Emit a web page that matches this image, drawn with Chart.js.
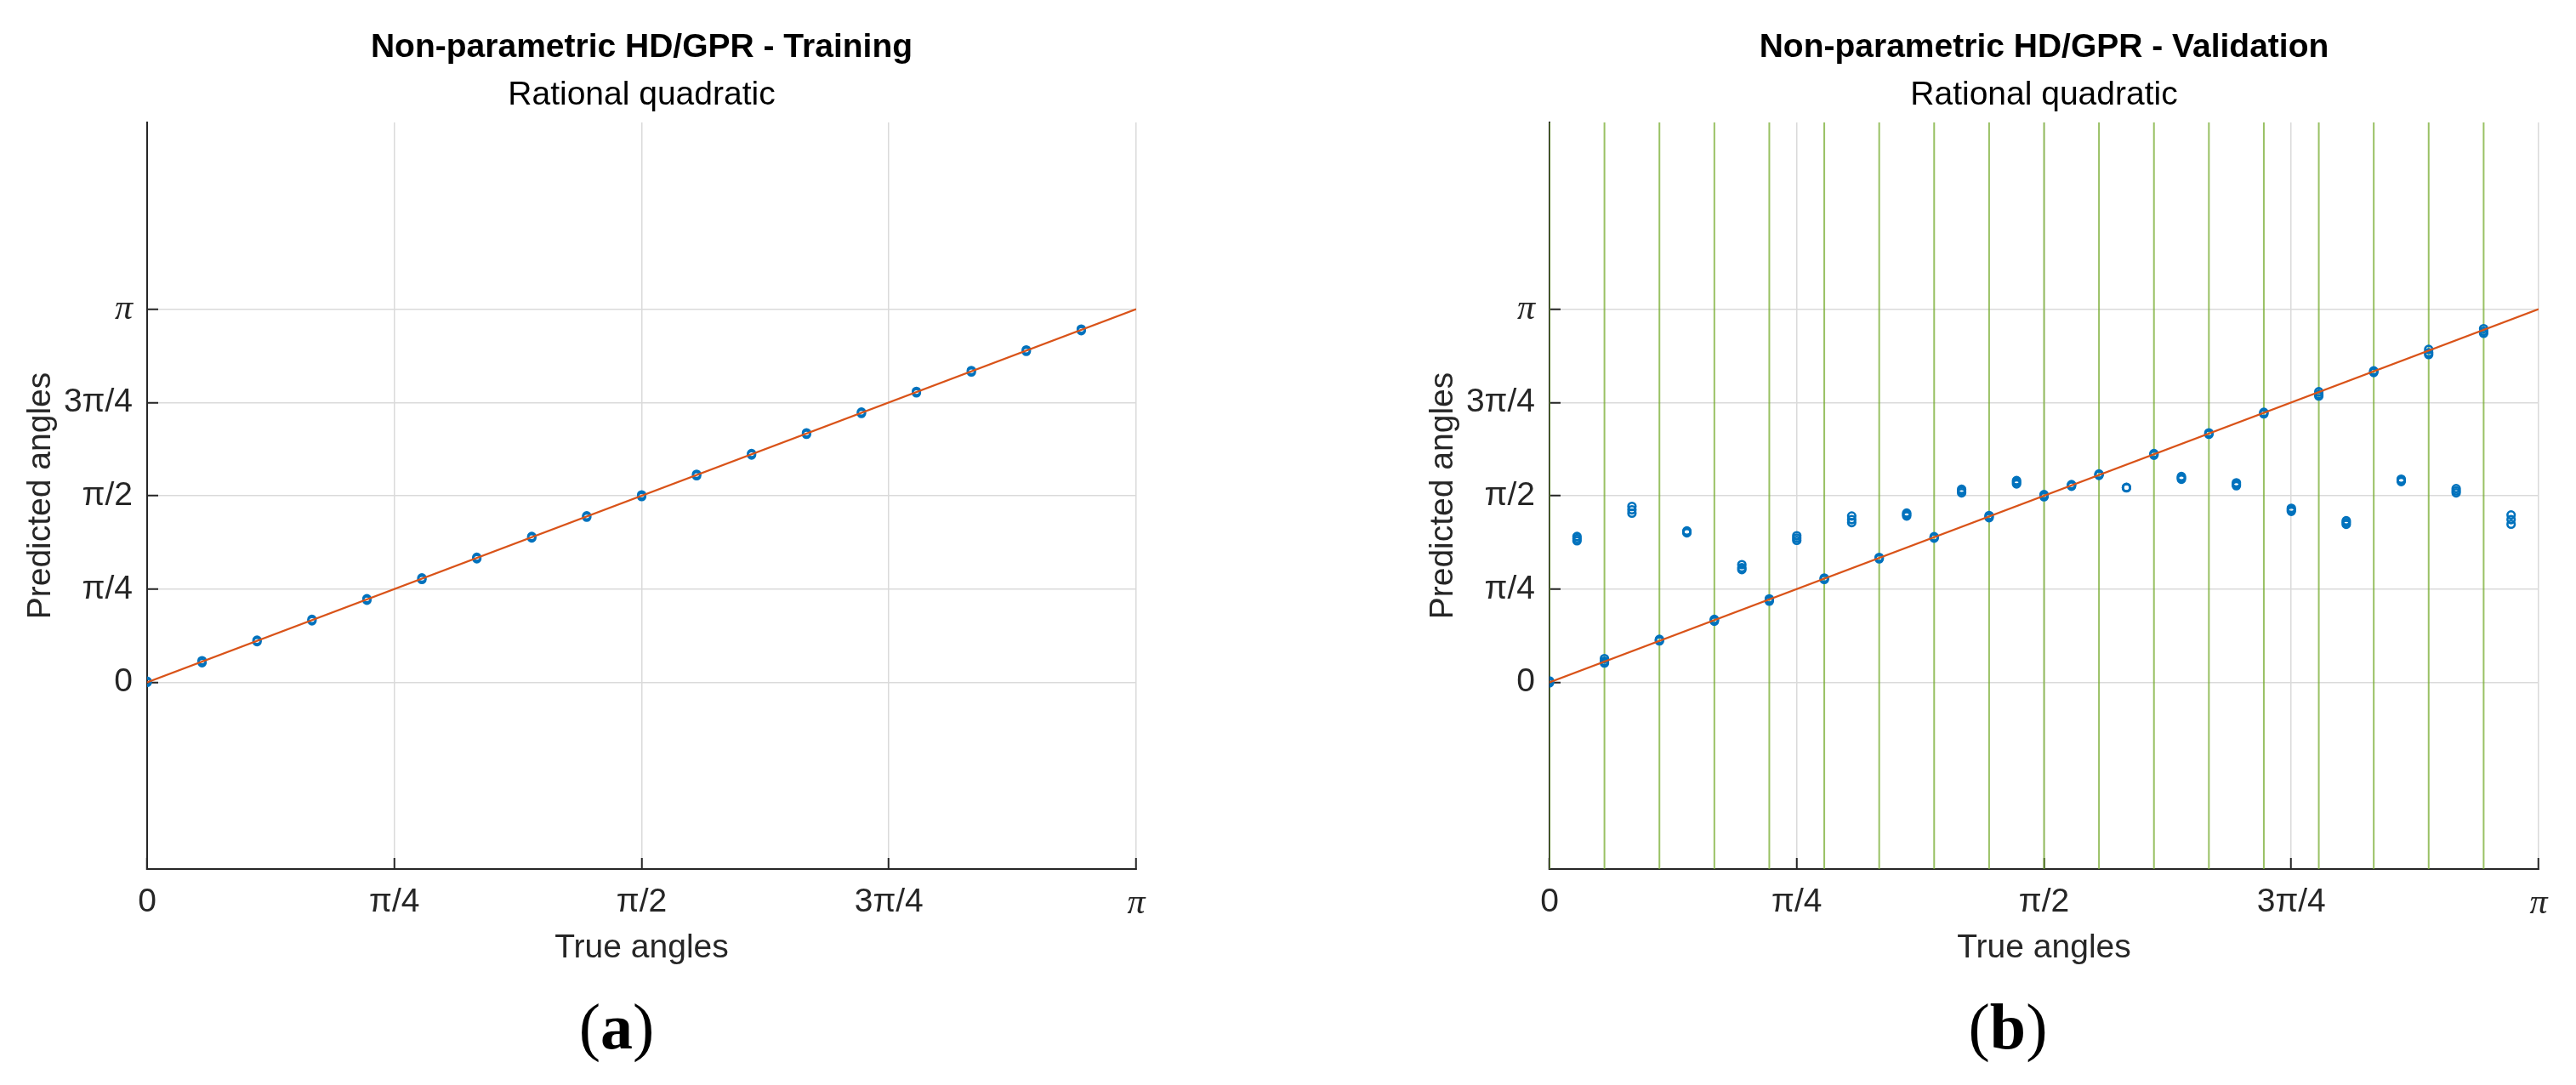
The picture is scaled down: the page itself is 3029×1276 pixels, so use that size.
<!DOCTYPE html>
<html>
<head>
<meta charset="utf-8">
<script src="https://cdn.jsdelivr.net/npm/chart.js@4.4.1/dist/chart.umd.min.js"></script>
<style>
html,body{margin:0;padding:0;background:#fff;}
body{width:3029px;height:1276px;position:relative;overflow:hidden;}
canvas{position:absolute;top:0;}
#cA{left:0;}
#cB{left:1649px;}
.lab{position:absolute;width:400px;text-align:center;font-family:"Liberation Serif",serif;font-size:76px;line-height:76px;color:#000;top:1169px;}
.lab b{font-weight:bold;}
</style>
</head>
<body>
<canvas id="cA" width="1380" height="1142"></canvas>
<canvas id="cB" width="1380" height="1142"></canvas>
<div class="lab" style="left:525px">(<b>a</b>)</div>
<div class="lab" style="left:2161px">(<b>b</b>)</div>
<script>
// ---------- data ----------
const tickValues = [0, 0.785398, 1.570796, 2.356194, 3.141593];
const tickLabels = ['0', 'π/4', 'π/2', '3π/4', 'π'];
const xRange = [0, 3.141593];
const yRange = [-1.570796, 4.712389];
const refLineX = [0, 3.141593];
const refLineY = [0, 3.141593];

// training angles (rad) and predicted angles (two samples each)
const trainTrue  = [0.0000, 0.1745, 0.3491, 0.5236, 0.6981, 0.8727, 1.0472, 1.2217, 1.3963, 1.5708, 1.7453, 1.9199, 2.0944, 2.2689, 2.4435, 2.6180, 2.7925, 2.9671];
const trainPredA = [0.000, 0.166, 0.343, 0.518, 0.692, 0.866, 1.041, 1.216, 1.390, 1.564, 1.739, 1.914, 2.088, 2.263, 2.437, 2.612, 2.786, 2.960];
const trainPredB = [0.010, 0.182, 0.355, 0.530, 0.704, 0.879, 1.053, 1.228, 1.402, 1.578, 1.751, 1.926, 2.100, 2.275, 2.449, 2.624, 2.798, 2.973];

// validation angles (rad) and predicted angles (three samples each)
const valTrue  = [0.0000, 0.0873, 0.1745, 0.2618, 0.3491, 0.4363, 0.5236, 0.6109, 0.6981, 0.7854, 0.8727, 0.9599, 1.0472, 1.1345, 1.2217, 1.3090, 1.3963, 1.4835, 1.5708, 1.6581, 1.7453, 1.8326, 1.9199, 2.0071, 2.0944, 2.1817, 2.2689, 2.3562, 2.4435, 2.5307, 2.6180, 2.7053, 2.7925, 2.8798, 2.9671, 3.0543];
const valPredA = [-0.004, 1.192, 0.163, 1.424, 0.349, 1.259, 0.515, 0.949, 0.684, 1.195, 0.866, 1.345, 1.040, 1.400, 1.214, 1.595, 1.386, 1.670, 1.562, 1.651, 1.742, 1.637, 1.912, 1.710, 2.088, 1.655, 2.260, 1.440, 2.410, 1.330, 2.608, 1.690, 2.759, 1.595, 2.938, 1.331];
const valPredB = [0.004, 1.210, 0.178, 1.452, 0.355, 1.266, 0.524, 0.965, 0.695, 1.214, 0.872, 1.370, 1.046, 1.413, 1.220, 1.611, 1.395, 1.684, 1.571, 1.659, 1.748, 1.639, 1.919, 1.721, 2.094, 1.668, 2.267, 1.453, 2.425, 1.345, 2.615, 1.700, 2.775, 1.612, 2.955, 1.370];
const valPredC = [0.012, 1.228, 0.200, 1.481, 0.362, 1.274, 0.530, 0.991, 0.703, 1.234, 0.878, 1.400, 1.052, 1.425, 1.226, 1.625, 1.404, 1.698, 1.580, 1.665, 1.754, 1.641, 1.926, 1.732, 2.100, 1.680, 2.273, 1.465, 2.446, 1.360, 2.622, 1.710, 2.802, 1.631, 2.977, 1.409];

// ---------- styling ----------
const FONT = "'Liberation Sans', Arial, Helvetica, sans-serif";
const AX = '#262626';
const GRID = '#dadada';
const BLUE = '#0072BD';
const ORANGE = '#D95319';
const GREEN = 'rgba(119,172,48,0.75)';

function tickFont(ctx) {
  if (ctx && ctx.tick && ctx.tick.label === 'π') {
    return {family: "'Liberation Serif', serif", style: 'italic', size: 42, lineHeight: 1.2};
  }
  return {family: FONT, size: 39, lineHeight: 1.2};
}

function axisCommon() {
  return {
    type: 'linear',
    grid: {color: GRID, lineWidth: 1.5, drawTicks: true, tickLength: -13, tickColor: AX, tickWidth: 2},
    border: {display: true, color: AX, width: 2},
  };
}

function makeChart(id, titleText, datasets) {
  const xAxis = Object.assign(axisCommon(), {
    position: 'bottom', min: xRange[0], max: xRange[1],
    afterBuildTicks: s => { s.ticks = tickValues.map(v => ({value: v})); },
    afterFit: s => { s.height = 120; },
    ticks: {callback: (v, i) => tickLabels[i], padding: 29, color: AX, font: tickFont, maxRotation: 0, autoSkip: false},
    title: {display: true, text: 'True angles', color: AX, font: {family: FONT, size: 39, lineHeight: 1.2}, padding: {top: 0, bottom: 3.5}}
  });
  const yAxis = Object.assign(axisCommon(), {
    position: 'left', min: yRange[0], max: yRange[1],
    afterBuildTicks: s => { s.ticks = tickValues.map(v => ({value: v})); },
    afterFit: s => { s.width = 173; },
    ticks: {callback: (v, i) => tickLabels[i], padding: 30, color: AX, font: tickFont, autoSkip: false},
    title: {display: true, text: 'Predicted angles', color: AX, font: {family: FONT, size: 39, lineHeight: 1.2}, padding: {top: 25, bottom: 0}}
  });
  return new Chart(document.getElementById(id), {
    type: 'scatter',
    data: {datasets},
    options: {
      responsive: false,
      animation: false,
      events: [],
      layout: {padding: {left: 0, right: 44, top: 0, bottom: 0}},
      plugins: {
        legend: {display: false},
        tooltip: {enabled: false},
        title: {display: true, text: titleText, fullSize: false, color: '#000',
                font: {family: FONT, size: 39, weight: 'bold', lineHeight: 1.2}, padding: {top: 32.6, bottom: 0}},
        subtitle: {display: true, text: 'Rational quadratic', fullSize: false, color: '#000',
                font: {family: FONT, size: 39, weight: 'normal', lineHeight: 1.2}, padding: {top: 9.7, bottom: 8.1}}
      },
      scales: {x: xAxis, y: yAxis}
    }
  });
}

function refLineDataset() {
  return {
    data: refLineX.map((x, i) => ({x: x, y: refLineY[i]})),
    showLine: true, borderColor: ORANGE, borderWidth: 2.2, pointRadius: 0, fill: false, order: 0
  };
}

function pointsDataset(xs, samples) {
  const pts = [];
  xs.forEach((x, i) => samples.forEach(s => pts.push({x: x, y: s[i]})));
  return {
    data: pts, showLine: false, pointStyle: 'circle', pointRadius: 4.3, pointBorderWidth: 2.6,
    borderColor: BLUE, backgroundColor: 'rgba(255,255,255,0)', order: 1
  };
}

function trainLinesDataset() {
  const pts = [];
  trainTrue.forEach(x => { pts.push({x: x, y: yRange[0]}); pts.push({x: x, y: yRange[1]}); pts.push({x: x, y: null}); });
  return {data: pts, showLine: true, spanGaps: false, borderColor: GREEN, borderWidth: 2, pointRadius: 0, order: 2};
}

makeChart('cA', 'Non-parametric HD/GPR - Training', [
  refLineDataset(),
  pointsDataset(trainTrue, [trainPredA, trainPredB])
]);

makeChart('cB', 'Non-parametric HD/GPR - Validation', [
  refLineDataset(),
  pointsDataset(valTrue, [valPredA, valPredB, valPredC]),
  trainLinesDataset()
]);
</script>
</body>
</html>
